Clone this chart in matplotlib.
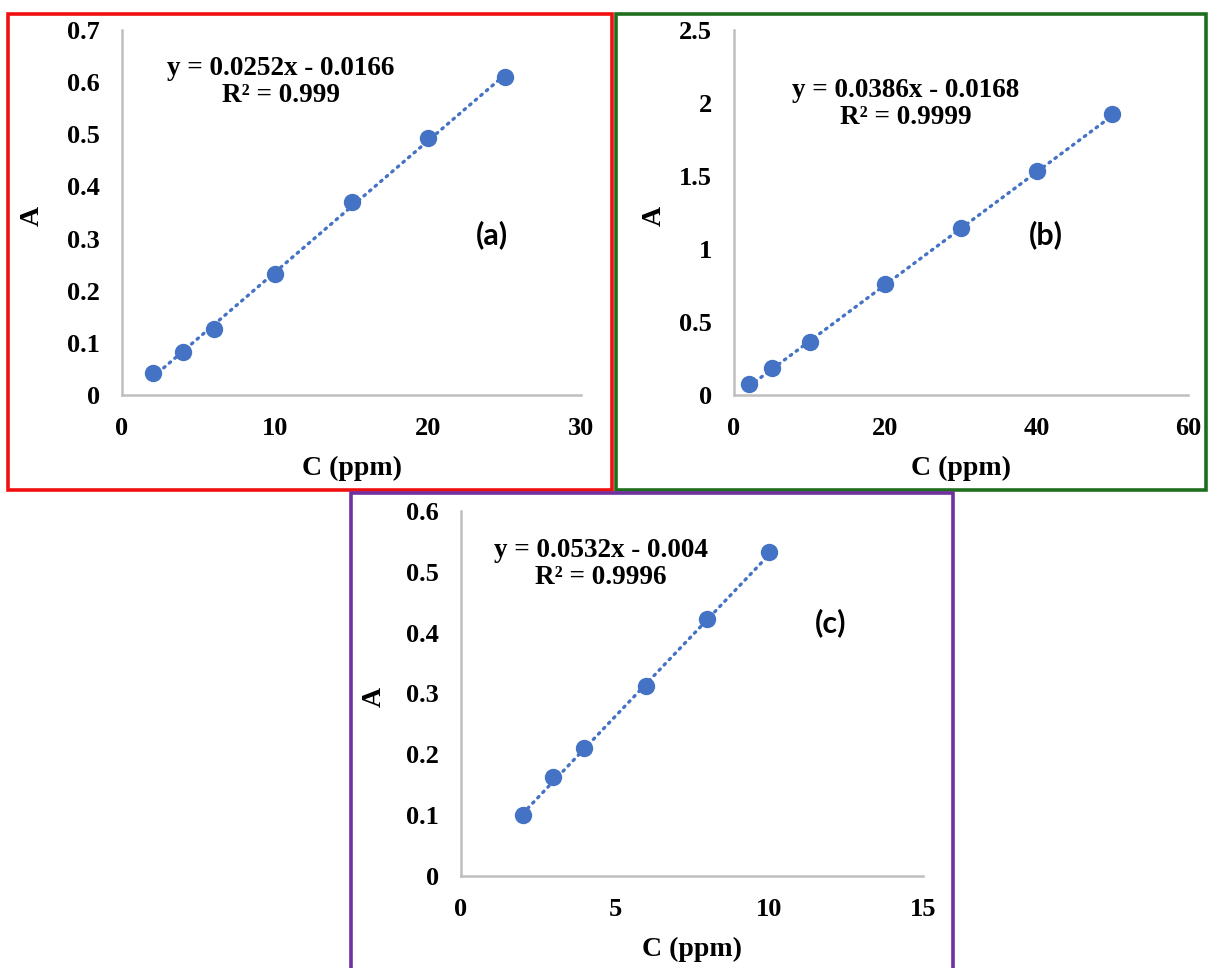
import matplotlib

matplotlib.use("Agg")
import matplotlib.pyplot as plt
from matplotlib.patches import Rectangle
import numpy as np


W, H = 1208, 968

# panel (a)
conc_a = [2, 4, 6, 10, 15, 20, 25]
abs_a = [0.042, 0.083, 0.127, 0.232, 0.371, 0.492, 0.610]
fit_a = (0.0252, -0.0166)
eq_a = "y = 0.0252x - 0.0166\nR² = 0.999"

# panel (b)
conc_b = [2, 5, 10, 20, 30, 40, 50]
abs_b = [0.075, 0.187, 0.361, 0.758, 1.142, 1.536, 1.925]
fit_b = (0.0386, -0.0168)
eq_b = "y = 0.0386x - 0.0168\nR² = 0.9999"

# panel (c)
conc_c = [2, 3, 4, 6, 8, 10]
abs_c = [0.100, 0.163, 0.211, 0.313, 0.422, 0.533]
fit_c = (0.0532, -0.004)
eq_c = "y = 0.0532x - 0.004\nR² = 0.9996"

BLUE = "#4472C4"
SERIF = "Liberation Serif"


def px_axes(fig, left, right, top, bottom):
    return fig.add_axes([left / W, 1 - bottom / H, (right - left) / W, (bottom - top) / H])


def frame(fig, left, right, top, bottom, color):
    fig.patches.append(
        Rectangle(
            (left / W, 1 - bottom / H),
            (right - left) / W,
            (bottom - top) / H,
            transform=fig.transFigure,
            fill=False,
            edgecolor=color,
            linewidth=2.6,
            zorder=10,
        )
    )


def panel(ax, x, y, fit, eq, tag, xlim, ylim, xticks, yticks, ylabel_x, eq_pos, tag_pos):
    x = np.asarray(x, dtype=float)
    xx = np.array([x.min(), x.max()])
    ax.plot(xx, fit[0] * xx + fit[1], color=BLUE, lw=2.4, ls=(0, (0.5, 1.7)),
            dash_capstyle="round", zorder=2)
    ax.plot(x, y, "o", color=BLUE, ms=11.5, zorder=3)

    ax.set_xlim(*xlim)
    ax.set_ylim(*ylim)
    ax.set_xticks(xticks)
    ax.set_yticks(yticks)
    ax.set_xticklabels([f"{t:g}" for t in xticks])
    ax.set_yticklabels([f"{t:g}" for t in yticks])
    for side in ("top", "right"):
        ax.spines[side].set_visible(False)
    for side in ("left", "bottom"):
        ax.spines[side].set_color("#BFBFBF")
        ax.spines[side].set_linewidth(1.8)
    ax.tick_params(length=0, labelsize=19, pad=16, labelcolor="black")
    for lab in ax.get_xticklabels() + ax.get_yticklabels():
        lab.set_fontfamily(SERIF)
        lab.set_fontweight("bold")
    ax.patch.set_alpha(0)

    ax.set_xlabel("C (ppm)", fontsize=20, fontfamily=SERIF, fontweight="bold", va="center")
    ax.xaxis.set_label_coords(0.5, -0.2)
    ax.set_ylabel("A", fontsize=20, fontfamily=SERIF, fontweight="bold", va="center")
    ax.yaxis.set_label_coords(ylabel_x, 0.49)

    ax.text(eq_pos[0], eq_pos[1], eq, transform=ax.transAxes, ha="center", va="center",
            multialignment="center", fontsize=19.5, fontfamily=SERIF, fontweight="bold",
            linespacing=1.1)
    ax.text(tag_pos[0], tag_pos[1], tag, transform=ax.transAxes, ha="center", va="center",
            fontsize=22, fontfamily="Lato", fontweight="bold")


def main() -> None:
    fig = plt.figure(figsize=(W / 100, H / 100), dpi=100)
    fig.patch.set_facecolor("white")

    ax_a = px_axes(fig, 122, 581, 30, 395)
    panel(ax_a, conc_a, abs_a, fit_a, eq_a, "(a)", (0, 30), (0, 0.7),
          [0, 10, 20, 30], [0, 0.1, 0.2, 0.3, 0.4, 0.5, 0.6, 0.7],
          -0.196, (0.346, 0.857), (0.806, 0.438))

    ax_b = px_axes(fig, 734, 1188, 30, 395)
    panel(ax_b, conc_b, abs_b, fit_b, eq_b, "(b)", (0, 60), (0, 2.5),
          [0, 20, 40, 60], [0, 0.5, 1, 1.5, 2, 2.5],
          -0.176, (0.379, 0.797), (0.687, 0.438))

    ax_c = px_axes(fig, 461, 923, 511, 876)
    panel(ax_c, conc_c, abs_c, fit_c, eq_c, "(c)", (0, 15), (0, 0.6),
          [0, 5, 10, 15], [0, 0.1, 0.2, 0.3, 0.4, 0.5, 0.6],
          -0.188, (0.303, 0.854), (0.801, 0.693))

    frame(fig, 8, 612, 14, 490, "#F01010")
    frame(fig, 616, 1206, 14, 490, "#1E6E1E")
    frame(fig, 351, 953, 493, 972, "#7030A0")

    fig.savefig("out.png", dpi=100)
    plt.close(fig)


if __name__ == "__main__":
    main()
